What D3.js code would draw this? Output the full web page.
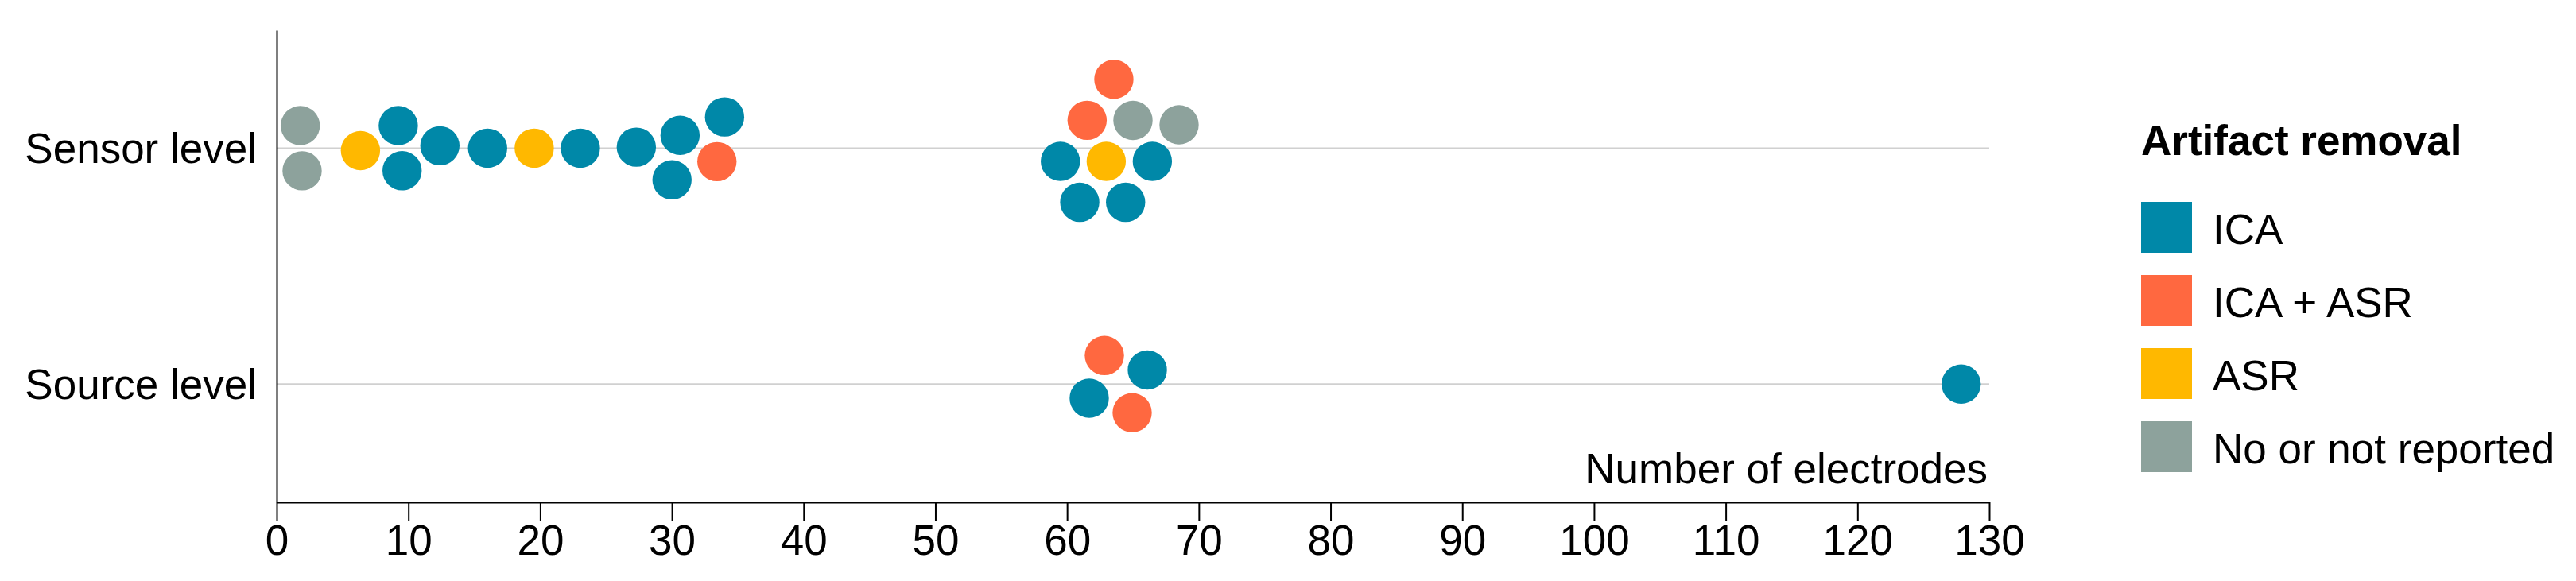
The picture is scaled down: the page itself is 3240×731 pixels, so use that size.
<!DOCTYPE html>
<html>
<head>
<meta charset="utf-8">
<script src="https://cdn.jsdelivr.net/npm/d3@7"></script>
<style>
  body { margin: 0; background: #fff; }
  svg { display: block; font-family: "Liberation Sans", Arial, sans-serif; }
</style>
</head>
<body>
<svg id="chart"></svg>
<script>
const levels = ["Sensor level", "Source level"];
const methods = ["ICA", "ICA + ASR", "ASR", "No or not reported"];
const methodColors = ["#0088a8", "#ff6840", "#ffb800", "#8da29c"];
const xTicks = [0, 10, 20, 30, 40, 50, 60, 70, 80, 90, 100, 110, 120, 130];

// number of electrodes per study, listed in the order the swarm places them
const sensorElectrodes = [1.93, 1.79, 6.36, 9.23, 9.52, 12.39, 16.01, 19.55, 23.05, 27.30,
    30.62, 30.01, 33.42, 34.00, 62.97, 59.49, 66.47, 61.52, 65.00, 68.50, 60.96, 64.44, 63.55];
const sensorMethod = ["No or not reported", "No or not reported", "ASR", "ICA", "ICA", "ICA", "ICA", "ASR", "ICA", "ICA",
    "ICA", "ICA", "ICA + ASR", "ICA", "ASR", "ICA", "ICA", "ICA + ASR", "No or not reported", "No or not reported", "ICA", "ICA", "ICA + ASR"];
const sourceElectrodes = [61.68, 62.83, 64.94, 66.09, 127.87];
const sourceMethod = ["ICA", "ICA + ASR", "ICA + ASR", "ICA", "ICA"];

const width = 3240, height = 731;
const plot = { left: 348, right: 2502, top: 38, bottom: 631.7 };
const RADIUS = 24.7;
const SPACING = 57; // centre distance between neighbouring dots

const svg = d3.select("#chart").attr("width", width).attr("height", height);

const xScale = d3.scaleLinear().domain([0, 130]).range([plot.left, plot.right]);
const yScale = d3.scalePoint().domain(levels).range([plot.top, plot.bottom]).padding(0.5);
const color = d3.scaleOrdinal().domain(methods).range(methodColors);

// simple dodge: each dot takes the offset closest to the line that does not overlap
function swarm(values) {
    const placed = [];
    values.forEach((v, i) => {
        const px = xScale(v);
        const near = placed.filter(p => Math.abs(p.x - px) < SPACING);
        const cands = [0];
        near.forEach(p => {
            const h = Math.sqrt(SPACING * SPACING - (p.x - px) ** 2);
            cands.push(p.dy - h, p.dy + h);
        });
        cands.sort((a, b) => Math.abs(a) - Math.abs(b) || a - b);
        const dy = cands.find(c => near.every(p => (p.x - px) ** 2 + (p.dy - c) ** 2 >= SPACING * SPACING - 1e-3));
        placed.push({ i, x: px, dy });
    });
    // centre every touching group on its line
    const sorted = placed.slice().sort((a, b) => a.x - b.x);
    let group = [];
    const flush = () => {
        const m = d3.mean(group, d => d.dy);
        group.forEach(d => d.dy -= m);
        group = [];
    };
    sorted.forEach((d, k) => {
        if (k > 0 && d.x - sorted[k - 1].x >= SPACING) flush();
        group.push(d);
    });
    flush();
    return placed;
}

const dots = [];
[[levels[0], sensorElectrodes, sensorMethod], [levels[1], sourceElectrodes, sourceMethod]].forEach(([lvl, vals, meth]) => {
    swarm(vals).forEach(p => dots.push({ level: lvl, x: p.x, y: yScale(lvl) + p.dy, method: meth[p.i] }));
});

// grid lines
svg.append("g")
    .selectAll("line")
    .data(levels)
    .join("line")
    .attr("x1", xScale(0))
    .attr("x2", xScale(130))
    .attr("y1", d => yScale(d))
    .attr("y2", d => yScale(d))
    .attr("stroke", "#d0d0d0")
    .attr("stroke-width", 2);

// y axis
const yAxis = svg.append("g")
    .attr("transform", `translate(${plot.left},0)`)
    .call(d3.axisLeft(yScale).tickSize(0).tickSizeOuter(0).tickPadding(25));
yAxis.select(".domain").attr("stroke", "#000").attr("stroke-width", 2);
yAxis.selectAll("text")
    .attr("dy", "0.35em")
    .style("font-size", "53px")
    .style("font-family", "'Liberation Sans', Arial, sans-serif")
    .attr("fill", "#000");

// x axis
const xAxis = svg.append("g")
    .attr("transform", `translate(0,${plot.bottom})`)
    .call(d3.axisBottom(xScale).tickValues(xTicks).tickSize(24).tickSizeOuter(0).tickPadding(5));
xAxis.select(".domain").attr("stroke", "#000").attr("stroke-width", 2.5);
xAxis.selectAll(".tick line").attr("stroke", "#000").attr("stroke-width", 2);
xAxis.selectAll("text")
    .style("font-size", "53px")
    .style("font-family", "'Liberation Sans', Arial, sans-serif")
    .attr("fill", "#000");

svg.append("text")
    .attr("x", xScale(130) - 2)
    .attr("y", 608)
    .attr("text-anchor", "end")
    .style("font-size", "53px")
    .text("Number of electrodes");

// dots
svg.append("g")
    .selectAll("circle")
    .data(dots)
    .join("circle")
    .attr("cx", d => d.x)
    .attr("cy", d => d.y)
    .attr("r", RADIUS)
    .attr("fill", d => color(d.method));

// legend
const legend = svg.append("g").attr("transform", "translate(2693,0)");
legend.append("text")
    .attr("x", 0)
    .attr("y", 195)
    .style("font-size", "53px")
    .style("font-weight", "bold")
    .text("Artifact removal");
const items = legend.selectAll("g.item")
    .data(methods)
    .join("g")
    .attr("class", "item")
    .attr("transform", (d, i) => `translate(0,${254 + i * 92})`);
items.append("rect")
    .attr("width", 64)
    .attr("height", 64)
    .attr("fill", d => color(d));
items.append("text")
    .attr("x", 90)
    .attr("y", 53)
    .style("font-size", "53px")
    .text(d => d);
</script>
</body>
</html>
